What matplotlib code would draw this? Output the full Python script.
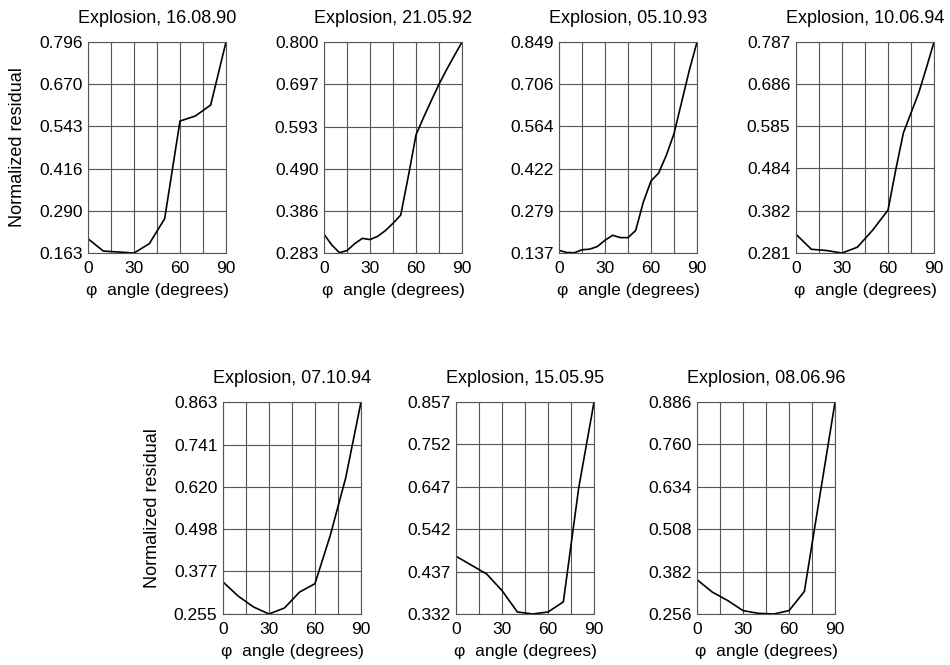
import matplotlib
matplotlib.use("Agg")
import matplotlib.pyplot as plt
import numpy as np

plt.rcParams['font.family'] = ['Liberation Sans', 'DejaVu Sans']

titles = ['Explosion, 16.08.90', 'Explosion, 21.05.92', 'Explosion, 05.10.93',
          'Explosion, 10.06.94', 'Explosion, 07.10.94', 'Explosion, 15.05.95',
          'Explosion, 08.06.96']

# angle (deg) and normalized residual for each explosion
x1 = [0, 10, 20, 30, 40, 50, 60, 70, 80, 90]
y1 = [0.206, 0.169, 0.166, 0.163, 0.191, 0.266, 0.559, 0.574, 0.607, 0.796]

x2 = [0, 5, 10, 15, 20, 25, 30, 35, 40, 45, 50, 55, 60, 65, 70, 75, 80, 85, 90]
y2 = [0.329, 0.303, 0.284, 0.289, 0.306, 0.319, 0.316, 0.324, 0.338, 0.356,
      0.376, 0.472, 0.573, 0.616, 0.657, 0.697, 0.733, 0.767, 0.800]

x3 = [0, 5, 10, 15, 20, 25, 30, 35, 40, 45, 50, 55, 60, 65, 70, 75, 80, 85, 90]
y3 = [0.146, 0.139, 0.138, 0.148, 0.150, 0.159, 0.180, 0.197, 0.189, 0.189,
      0.213, 0.309, 0.380, 0.407, 0.467, 0.540, 0.647, 0.754, 0.849]

x4 = [0, 10, 20, 30, 40, 50, 60, 65, 70, 75, 80, 85, 90]
y4 = [0.326, 0.290, 0.287, 0.281, 0.295, 0.336, 0.384, 0.480, 0.569, 0.617,
      0.665, 0.725, 0.787]

x5 = [0, 10, 20, 30, 40, 50, 60, 70, 80, 90]
y5 = [0.347, 0.306, 0.275, 0.255, 0.272, 0.318, 0.342, 0.481, 0.645, 0.863]

x6 = [0, 20, 30, 40, 50, 60, 70, 80, 90]
y6 = [0.475, 0.431, 0.390, 0.337, 0.332, 0.337, 0.362, 0.644, 0.857]

x7 = [0, 10, 20, 30, 40, 50, 60, 70, 80, 90]
y7 = [0.358, 0.321, 0.296, 0.266, 0.258, 0.256, 0.266, 0.323, 0.605, 0.886]

yticks = [
    [0.163, 0.290, 0.416, 0.543, 0.670, 0.796],
    [0.283, 0.386, 0.490, 0.593, 0.697, 0.800],
    [0.137, 0.279, 0.422, 0.564, 0.706, 0.849],
    [0.281, 0.382, 0.484, 0.585, 0.686, 0.787],
    [0.255, 0.377, 0.498, 0.620, 0.741, 0.863],
    [0.332, 0.437, 0.542, 0.647, 0.752, 0.857],
    [0.256, 0.382, 0.508, 0.634, 0.760, 0.886],
]

xs = [x1, x2, x3, x4, x5, x6, x7]
ys = [y1, y2, y3, y4, y5, y6, y7]

# axes boxes [left, bottom, width, height] in figure fractions
boxes = [
    [0.0926, 0.6195, 0.1453, 0.3173],
    [0.3411, 0.6195, 0.1453, 0.3173],
    [0.5884, 0.6195, 0.1453, 0.3173],
    [0.8379, 0.6195, 0.1453, 0.3173],
    [0.2347, 0.0767, 0.1453, 0.3188],
    [0.4800, 0.0767, 0.1453, 0.3188],
    [0.7337, 0.0767, 0.1453, 0.3188],
]

fig = plt.figure(figsize=(9.5, 6.65), dpi=100)

for i in range(7):
    ax = fig.add_axes(boxes[i])
    ax.plot(xs[i], ys[i], color='black', lw=1.2)
    ax.set_xlim(0, 90)
    ax.set_ylim(yticks[i][0], yticks[i][-1])
    ax.set_xticks([0, 30, 60, 90])
    ax.set_xticks([15, 45, 75], minor=True)
    ax.set_yticks(yticks[i])
    ax.set_yticklabels([f'{v:.3f}' for v in yticks[i]])
    ax.grid(True, which='both', color='#555555', lw=0.8)
    ax.tick_params(which='both', length=0, labelsize=12.5)
    ax.tick_params(axis='x', pad=6)
    ax.tick_params(axis='y', pad=4)
    for s in ax.spines.values():
        s.set_color('#555555')
        s.set_linewidth(0.8)
    ax.set_title(titles[i], fontsize=13, pad=14)
    ax.set_xlabel('φ  angle (degrees)', fontsize=12.5, labelpad=5)
    if i in (0, 4):
        ax.set_ylabel('Normalized residual', fontsize=13, labelpad=9)

fig.savefig('out.png', dpi=100)
